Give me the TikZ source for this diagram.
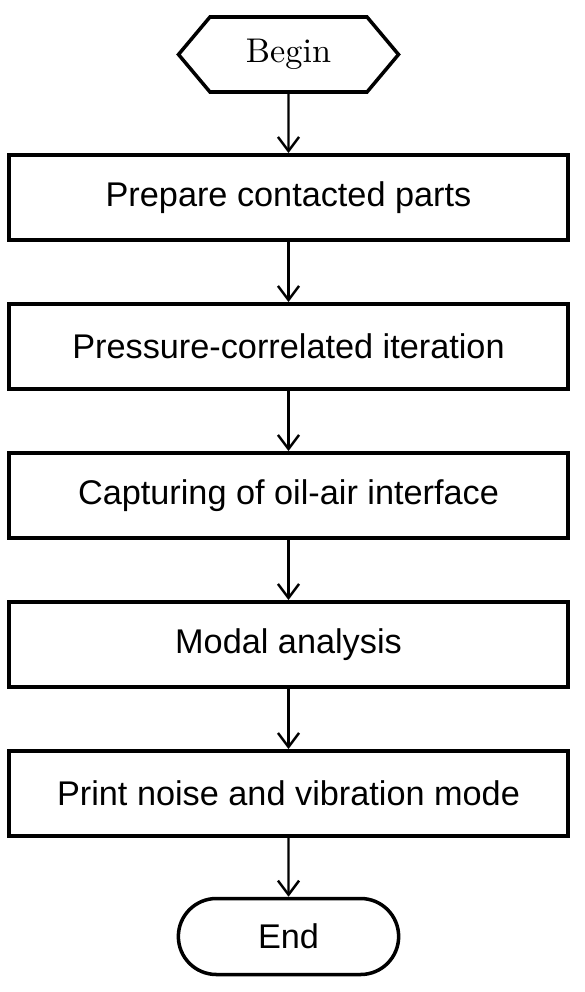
\documentclass[tikz,border=0pt]{standalone}
\usepackage{fontspec}
\newfontfamily\boxfont{Liberation Sans}
\newfontfamily\beginfont{lmroman10-regular.otf}
\usetikzlibrary{arrows, arrows.meta, positioning, shapes.symbols, shapes.misc}

\tikzset{
  stepbox/.style={draw, line width=2.2pt, minimum width=11.18cm, minimum height=1.7cm,
    font=\boxfont\fontsize{19.5}{22}\selectfont},
  beginbox/.style={draw, line width=2pt, signal, signal to=west and east, signal pointer angle=100,
    minimum width=4.4cm, minimum height=1.5cm, font=\beginfont\fontsize{19.5}{22}\selectfont},
  endbox/.style={draw, line width=2pt, rounded rectangle, minimum width=4.64cm, minimum height=1.52cm,
    font=\boxfont\fontsize{19.5}{22}\selectfont},
  flow/.style={-{Straight Barb[length=8pt,width=12pt,line width=1.4pt]}, line width=1.4pt}
}

\begin{document}
\begin{tikzpicture}[node distance=2.98cm, on grid]
\useasboundingbox (0,0) rectangle (11.68,-19.84); %page frame
\node[beginbox] (begin) at (5.77,-1.09) {Begin};
\node[stepbox, below=2.86cm of begin] (prep) {Prepare contacted parts};
\node[stepbox, below=of prep] (iter) {Pressure-correlated iteration};
\node[stepbox, below=of iter] (capt) {Capturing of oil-air interface};
\node[stepbox, below=of capt] (modal) {Modal analysis};
\node[stepbox, below=of modal] (print) {Print noise and vibration mode};
\node[endbox, below=2.86cm of print] (end) {End};
\draw[flow] (begin) -- (prep);
\draw[flow] (prep) -- (iter);
\draw[flow] (iter) -- (capt);
\draw[flow] (capt) -- (modal);
\draw[flow] (modal) -- (print);
\draw[flow] (print) -- (end);
\end{tikzpicture}
\end{document}
